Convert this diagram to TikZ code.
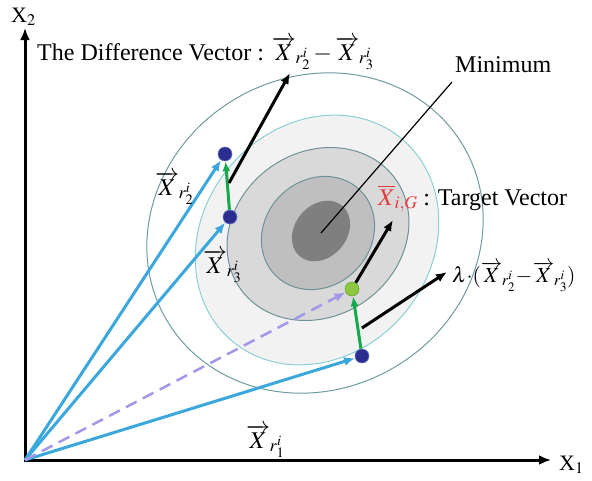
\documentclass[tikz,border=0pt]{standalone}
\usepackage{mathptmx}
\usepackage{fontspec}
\setmainfont{Liberation Serif}
\usepackage{tikz}
\usepackage{xcolor}
\usetikzlibrary{arrows.meta}

\definecolor{ringA}{HTML}{6E9C9E}
\definecolor{ringB}{HTML}{8CCFD5}
\definecolor{ringC}{HTML}{6F9296}
\definecolor{fillB}{HTML}{F2F2F2}
\definecolor{fillC}{HTML}{D9D9D9}
\definecolor{fillD}{HTML}{BFBFBF}
\definecolor{fillE}{HTML}{7F7F7F}
\definecolor{skyb}{HTML}{3BA7DC}
\definecolor{grn}{HTML}{16A94B}
\definecolor{lav}{HTML}{A297E8}
\definecolor{tgtred}{HTML}{E8383D}
\definecolor{dotblue}{HTML}{2B2E8F}
\definecolor{dotrim}{HTML}{6A74C4}
\definecolor{dotgrn}{HTML}{8DC63F}
\definecolor{dotgrnrim}{HTML}{6DA83A}

% vector with its index set close to the letter
\newcommand\vecX[1]{\overrightarrow{X}\kern-0.5pt\raisebox{-3.5pt}{$\scriptstyle r_{#1}^{i}$}}

\tikzset{
  ring/.style={line width=1pt},
  lbl/.style={font=\fontsize{24}{28}\selectfont,inner sep=0pt,anchor=base west},
  axlbl/.style={font=\fontsize{22}{26}\selectfont,inner sep=0pt,anchor=base west},
  member/.style={circle,fill=dotblue,draw=dotrim,line width=0.6pt,minimum size=14pt,inner sep=0pt},
  trial/.style={circle,fill=dotgrn,draw=dotgrnrim,line width=0.6pt,minimum size=14pt,inner sep=0pt},
  base arrow/.style={-{Latex[length=11pt,width=9pt]},line width=3pt,skyb},
  step arrow/.style={-{Latex[length=10pt,width=8pt]},line width=3pt,grn},
  diff arrow/.style={-{Latex[length=11pt,width=9pt]},line width=3pt,black},
  dash arrow/.style={-{Latex[length=11pt,width=9pt]},line width=2.5pt,lav,dash pattern=on 12pt off 7pt}
}

\begin{document}
\begin{tikzpicture}[x=1pt,y=-1pt]
\useasboundingbox(0,0)rectangle(592,480);
% level sets of the cost function
\draw[ring,ringA,rotate around={30:(315,233)}](315,233)ellipse[x radius=172,y radius=156];
\draw[ring,draw=ringB,fill=fillB,rotate around={50:(317,240)}](317,240)ellipse[x radius=132,y radius=114];
\draw[ring,draw=ringC,fill=fillC,rotate around={35:(318,234)}](318,234)ellipse[x radius=95,y radius=82];
\draw[ring,draw=ringC,fill=fillD,rotate around={45:(318,233)}](318,233)ellipse[x radius=60,y radius=53];
\fill[fillE,rotate around={50:(321,231)}](321,231)ellipse[x radius=33,y radius=26];

\coordinate(min)at(321,233);
\coordinate(minend)at(452,82);
\node[lbl](mintxt)at(455,72){Minimum};
\draw[line width=1.2pt](min)--(minend);

% axes
\coordinate(O)at(25,460);
\coordinate(ytop)at(25,28);
\coordinate(xend)at(551,460);
\draw[{Latex[length=12pt,width=10pt]}-{Latex[length=12pt,width=10pt]},line width=3pt](ytop)--(O)--(xend);
\node[axlbl](xtwo)at(11,22){X$_2$};
\node[axlbl](xone)at(559,470){X$_1$};

% population members
\node[member](r2)at(225,154){};
\node[member](r3)at(230,217){};
\node[member](r1)at(362,356){};
\node[trial](v)at(352,289){};

\draw[base arrow](O)--(r2);
\draw[base arrow](O)--(r3);
\draw[base arrow](O)--(r1);
\draw[dash arrow](O)--(v);
\draw[step arrow](r3)--(r2);
\draw[step arrow](r1)--(v);

\coordinate(d1)at(229,183);
\coordinate(d1e)at(290,73);
\coordinate(d2e)at(393,220);
\coordinate(d3)at(362,328);
\coordinate(d3e)at(447,272);
\draw[diff arrow](d1)--(d1e);
\draw[diff arrow](v)--(d2e);
\draw[diff arrow](d3)--(d3e);

% labels
\node[lbl](difftxt)at(37,60){The Difference Vector : $\vecX{2}-\vecX{3}$};
\node[lbl](tgttxt)at(378,205){\textcolor{tgtred}{$\overline{X}\kern-0.5pt\raisebox{-3.5pt}{$\scriptstyle i,G$}$} : Target Vector};
\node[lbl,font=\fontsize{21.5}{26}\selectfont](lamtxt)at(452,282){$\lambda{\cdot}(\vecX{2}\mkern-2mu-\mkern-2mu\vecX{3})$};
\node[lbl](xr2)at(155,195){$\vecX{2}$};
\node[lbl](xr3)at(203,273){$\vecX{3}$};
\node[lbl](xr1)at(246,448){$\vecX{1}$};
\end{tikzpicture}
\end{document}
